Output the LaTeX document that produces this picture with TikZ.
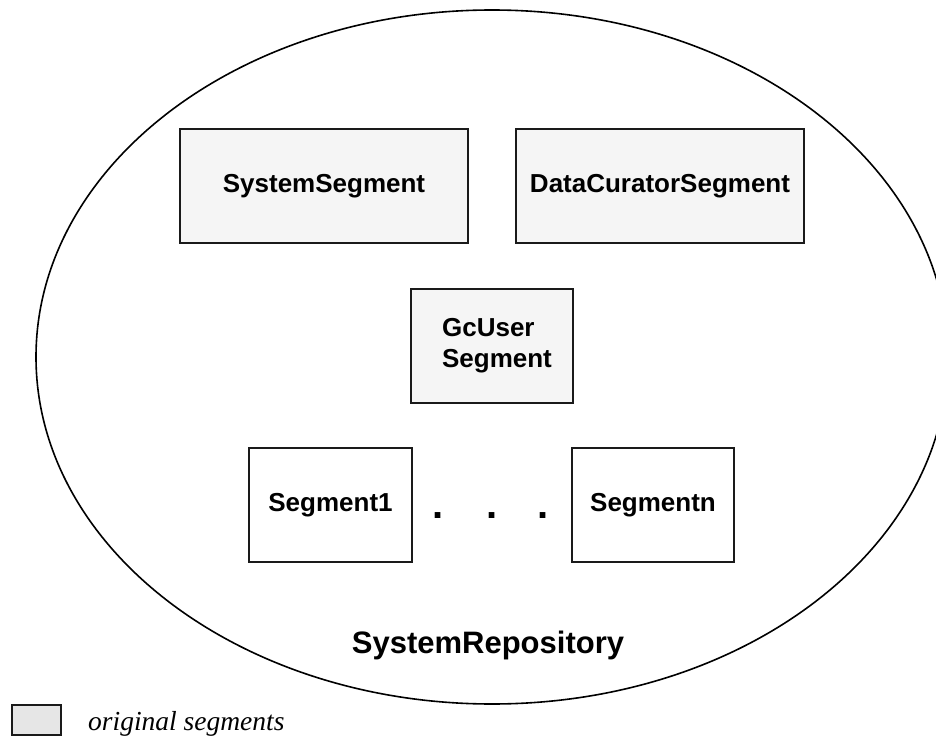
\documentclass[tikz,border=0pt]{standalone}
\usepackage{fontspec}
\newfontfamily\lsans{Liberation Sans}
\newfontfamily\lserif{Liberation Serif}
\definecolor{segfill}{HTML}{F5F5F5}
\definecolor{legfill}{HTML}{E6E6E6}
\definecolor{edge}{HTML}{1A1A1A}
\begin{document}
\begin{tikzpicture}[x=1pt,y=-1pt,
  segbox/.style={draw=edge, line width=1.6pt, inner sep=0pt, outer sep=0pt,
    font=\lsans\bfseries\fontsize{26}{31}\selectfont},
  origbox/.style={segbox, fill=segfill},
  newbox/.style={segbox, fill=white},
  dotmark/.style={inner sep=0pt, anchor=base, font=\lsans\bfseries\fontsize{40}{42}\selectfont},
  repo/.style={draw=black, line width=1.6pt}]
\useasboundingbox (0,0) rectangle (936,738);
\clip (0,0) rectangle (936,738);
\fill[white] (0,0) rectangle (936,738);
% repository ellipse
\draw[repo] (492,357) ellipse [x radius=456, y radius=347];
% segments
\node[origbox, minimum width=288pt, minimum height=114pt] (sys) at (324,186) {SystemSegment};
\node[origbox, minimum width=288pt, minimum height=114pt] (dc) at (660,186) {DataCuratorSegment};
\node[origbox, minimum width=162pt, minimum height=114pt, align=left] (gc) at (492,346) {\hspace*{10pt}GcUser\\\hspace*{10pt}Segment};
\node[newbox, minimum width=163pt, minimum height=114pt] (s1) at (330.5,505) {Segment1};
\node[newbox, minimum width=162pt, minimum height=114pt] (sn) at (653,505) {Segmentn};
\node[dotmark] (d1) at (438,518) {.};
\node[dotmark] (d2) at (492,518) {.};
\node[dotmark] (d3) at (543,518) {.};
% label
\node[inner sep=0pt, anchor=base, font=\lsans\bfseries\fontsize{31}{36}\selectfont] (lbl) at (488,653) {SystemRepository};
% legend
\node[draw=edge, line width=1.4pt, fill=legfill, inner sep=0pt, minimum width=49pt, minimum height=30pt] (legbox) at (36.5,720) {};
\node[inner sep=0pt, anchor=base west, font=\lserif\itshape\fontsize{27.5}{30}\selectfont] (legtxt) at (88,730) {original segments};
\end{tikzpicture}
\end{document}
